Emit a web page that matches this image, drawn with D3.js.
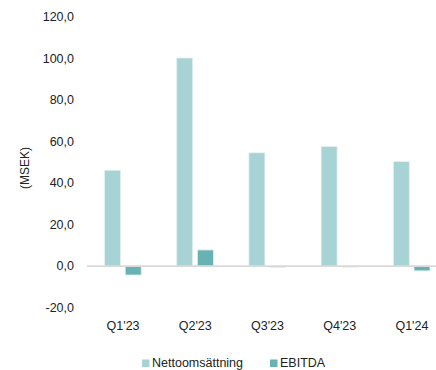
<!DOCTYPE html>
<html><head><meta charset="utf-8">
<script src="https://cdn.jsdelivr.net/npm/d3@7"></script>
<style>body{margin:0;background:#fff}svg{display:block}text{font-family:"Liberation Sans",Arial,sans-serif;fill:#222}</style>
</head><body>
<svg id="c" width="436" height="370"></svg>
<script>
const categories = ["Q1'23","Q2'23","Q3'23","Q4'23","Q1'24"];
const netto = [46.2, 100.3, 54.6, 57.6, 50.4];
const ebitda = [-4.3, 7.8, -0.6, -0.3, -2.3];
const seriesNames = ["Nettoomsättning","EBITDA"];
const colors = ["#a7d3d4","#69b2b3"];
const yTicks = [-20,0,20,40,60,80,100,120];

const svg = d3.select("#c");
const x = d3.scaleBand().domain(categories).range([87,448]);
const y = d3.scaleLinear().domain([-20,120]).range([307.6,17.1]);

// y tick labels
const fmt = v => d3.format(".1f")(v).replace(".",",").replace("−","-");
svg.append("g").selectAll("text").data(yTicks).join("text")
  .attr("x",74).attr("y",d=>y(d)).attr("dy","0.35em")
  .attr("text-anchor","end").attr("font-size",12.5).text(fmt);

// axis title
svg.append("text").attr("transform","translate(25,168) rotate(-90)")
  .attr("text-anchor","middle").attr("dy","0.35em").attr("font-size",12).text("(MSEK)");

const bw = 16;
const off = [-18.6, 2.1];
[netto, ebitda].forEach((vals,si)=>{
  svg.append("g").selectAll("rect").data(vals).join("rect")
    .attr("x",(d,i)=>x(categories[i])+x.bandwidth()/2+off[si])
    .attr("width",bw)
    .attr("y",d=>Math.min(y(d),y(0)))
    .attr("height",d=>Math.max(Math.abs(y(d)-y(0)),1))
    .attr("fill",colors[si])
    .attr("stroke","#e4f1f1").attr("stroke-width",0.8);
});

// baseline
svg.append("line").attr("x1",87).attr("x2",448).attr("y1",y(0)).attr("y2",y(0))
  .attr("stroke","#d9d9d9").attr("stroke-width",1.6);

// x labels
svg.append("g").selectAll("text").data(categories).join("text")
  .attr("x",d=>x(d)+x.bandwidth()/2).attr("y",330)
  .attr("text-anchor","middle").attr("font-size",12.5).text(d=>d);

// legend
const lg = [{x:142,name:seriesNames[0],c:colors[0]},{x:270,name:seriesNames[1],c:colors[1]}];
lg.forEach(l=>{
  svg.append("rect").attr("x",l.x).attr("y",359.5).attr("width",7.5).attr("height",7.5).attr("fill",l.c);
  svg.append("text").attr("x",l.x+10).attr("y",366.5).attr("font-size",12.5).text(l.name);
});
</script>
</body></html>
